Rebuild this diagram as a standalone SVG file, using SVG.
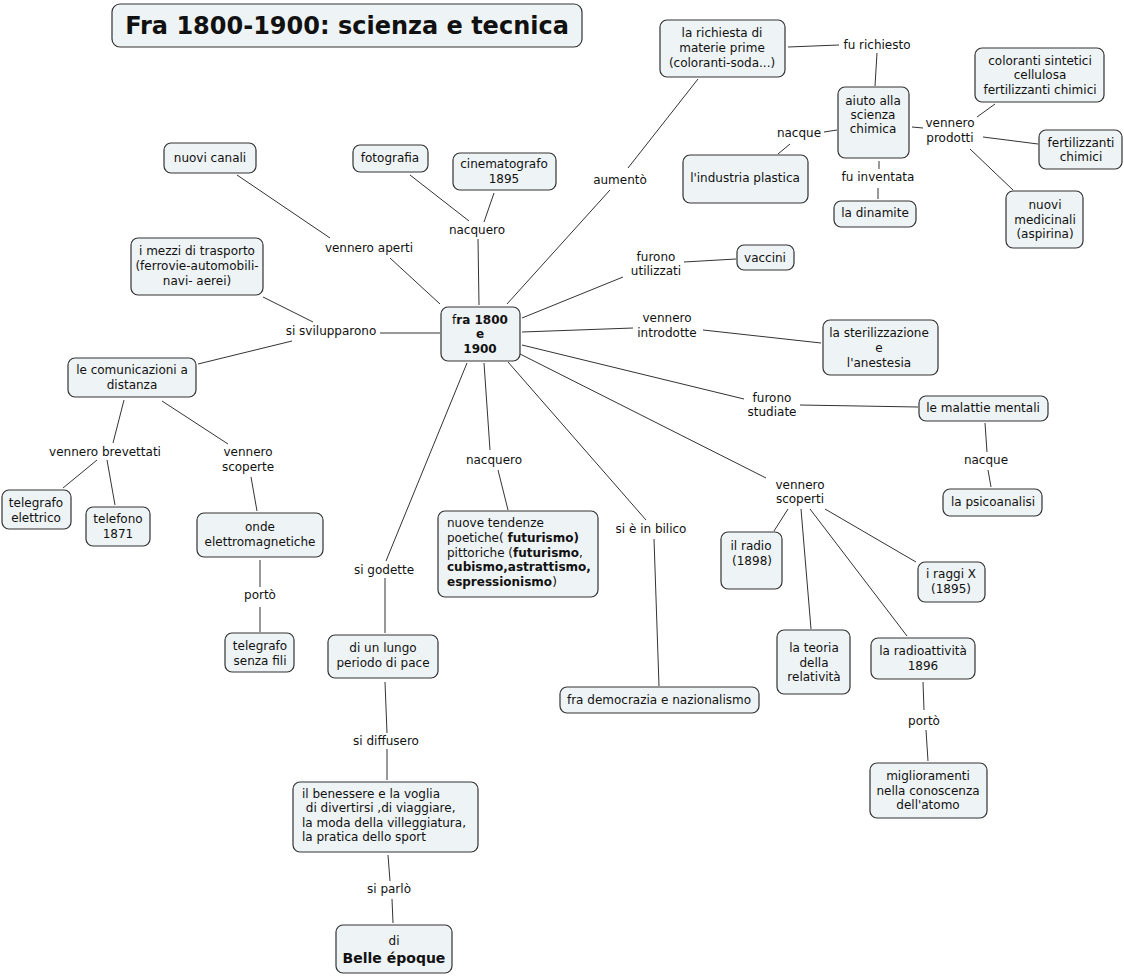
<svg xmlns="http://www.w3.org/2000/svg" width="1124" height="976" viewBox="0 0 1124 976">
<style>
.n rect{fill:#EEF3F5;stroke:#333;stroke-width:1.2}
text{font-family:"DejaVu Sans",Verdana,sans-serif;font-size:12px;fill:#111}
.c{text-anchor:middle}
.b{font-weight:bold}
#links line{stroke:#333;stroke-width:1}
</style>
<rect width="1124" height="976" fill="#fff"/>
<g id="links">
<line x1="237" y1="175" x2="330" y2="238"/>
<line x1="390" y1="258" x2="440" y2="304"/>
<line x1="410" y1="175" x2="469" y2="221"/>
<line x1="494" y1="193" x2="484" y2="222"/>
<line x1="478" y1="239" x2="479" y2="305"/>
<line x1="507" y1="304" x2="610" y2="190"/>
<line x1="628" y1="168" x2="698" y2="79"/>
<line x1="788" y1="47" x2="839" y2="45"/>
<line x1="877" y1="53" x2="875" y2="86"/>
<line x1="837" y1="130" x2="824" y2="132"/>
<line x1="790" y1="144" x2="778" y2="154"/>
<line x1="879" y1="161" x2="879" y2="169"/>
<line x1="878" y1="188" x2="878" y2="199"/>
<line x1="912" y1="127" x2="923" y2="128"/>
<line x1="977" y1="117" x2="995" y2="104"/>
<line x1="983" y1="137" x2="1038" y2="144"/>
<line x1="970" y1="149" x2="1013" y2="190"/>
<line x1="522" y1="318" x2="623" y2="277"/>
<line x1="684" y1="262" x2="736" y2="259"/>
<line x1="522" y1="332" x2="633" y2="328"/>
<line x1="703" y1="330" x2="821" y2="343"/>
<line x1="522" y1="345" x2="744" y2="399"/>
<line x1="800" y1="405" x2="918" y2="407"/>
<line x1="985" y1="423" x2="987" y2="452"/>
<line x1="988" y1="470" x2="991" y2="487"/>
<line x1="520" y1="354" x2="766" y2="478"/>
<line x1="788" y1="509" x2="774" y2="531"/>
<line x1="801" y1="509" x2="811" y2="629"/>
<line x1="810" y1="509" x2="907" y2="636"/>
<line x1="825" y1="509" x2="916" y2="562"/>
<line x1="508" y1="362" x2="646" y2="520"/>
<line x1="654" y1="539" x2="659" y2="686"/>
<line x1="484" y1="363" x2="490" y2="450"/>
<line x1="498" y1="470" x2="508" y2="510"/>
<line x1="467" y1="363" x2="386" y2="561"/>
<line x1="385" y1="578" x2="385" y2="633"/>
<line x1="385" y1="682" x2="387" y2="733"/>
<line x1="387" y1="749" x2="387" y2="780"/>
<line x1="388" y1="855" x2="390" y2="881"/>
<line x1="392" y1="899" x2="393" y2="923"/>
<line x1="380" y1="333" x2="440" y2="333"/>
<line x1="263" y1="297" x2="313" y2="322"/>
<line x1="292" y1="341" x2="198" y2="364"/>
<line x1="124" y1="400" x2="113" y2="443"/>
<line x1="97" y1="460" x2="63" y2="488"/>
<line x1="107" y1="460" x2="115" y2="505"/>
<line x1="162" y1="401" x2="228" y2="444"/>
<line x1="251" y1="477" x2="257" y2="511"/>
<line x1="260" y1="560" x2="260" y2="587"/>
<line x1="260" y1="607" x2="260" y2="632"/>
<line x1="923" y1="682" x2="924" y2="710"/>
<line x1="926" y1="730" x2="928" y2="761"/>
</g>
<g id="labels" class="c">
<text class="c" x="369" y="252">vennero aperti</text>
<text class="c" x="477" y="234">nacquero</text>
<text class="c" x="620" y="184">aumentò</text>
<text class="c" x="877" y="49">fu richiesto</text>
<text class="c" x="799" y="137">nacque</text>
<text class="c" x="950" y="127">vennero</text>
<text class="c" x="950" y="142">prodotti</text>
<text class="c" x="878" y="181">fu inventata</text>
<text class="c" x="656" y="261">furono</text>
<text class="c" x="656" y="275">utilizzati</text>
<text class="c" x="667" y="322">vennero</text>
<text class="c" x="667" y="337">introdotte</text>
<text class="c" x="772" y="402">furono</text>
<text class="c" x="772" y="416">studiate</text>
<text class="c" x="986" y="464">nacque</text>
<text class="c" x="800" y="489">vennero</text>
<text class="c" x="800" y="503">scoperti</text>
<text class="c" x="651" y="533">si è in bilico</text>
<text class="c" x="494" y="464">nacquero</text>
<text class="c" x="384" y="574">si godette</text>
<text class="c" x="386" y="745">si diffusero</text>
<text class="c" x="389" y="893">si parlò</text>
<text class="c" x="331" y="335">si svilupparono</text>
<text class="c" x="105" y="456">vennero brevettati</text>
<text class="c" x="248" y="456">vennero</text>
<text class="c" x="248" y="471">scoperte</text>
<text class="c" x="260" y="599">portò</text>
<text class="c" x="924" y="725">portò</text>
</g>
<g id="title" class="n"><rect x="112" y="4" width="470" height="43" rx="8"/><text class="c b" x="347" y="34" style="font-size:24px">Fra 1800-1900: scienza e tecnica</text></g>
<g id="center" class="n"><rect x="441" y="307" width="79" height="54" rx="7"/><text class="c" x="480" y="324"><tspan>f</tspan><tspan class="b">ra 1800</tspan></text><text class="c b" x="480" y="338">e</text><text class="c b" x="480" y="353">1900</text></g>
<g id="n-canali" class="n"><rect x="164" y="143" width="92" height="30" rx="7"/><text class="c" x="210" y="162">nuovi canali</text></g>
<g id="n-foto" class="n"><rect x="353" y="145" width="75" height="27" rx="7"/><text class="c" x="390" y="162">fotografia</text></g>
<g id="n-cinema" class="n"><rect x="453" y="153" width="103" height="37" rx="7"/><text class="c" x="504" y="168">cinematografo</text><text class="c" x="504" y="183">1895</text></g>
<g id="n-richiesta" class="n"><rect x="660" y="20" width="125" height="57" rx="7"/><text class="c" x="722" y="37">la richiesta di</text><text class="c" x="722" y="52">materie prime</text><text class="c" x="722" y="67">(coloranti-soda...)</text></g>
<g id="n-aiuto" class="n"><rect x="838" y="87" width="71" height="71" rx="7"/><text class="c" x="873" y="105">aiuto alla</text><text class="c" x="873" y="119">scienza</text><text class="c" x="873" y="133">chimica</text></g>
<g id="n-plastica" class="n"><rect x="683" y="155" width="125" height="48" rx="7"/><text class="c" x="745" y="182">l'industria plastica</text></g>
<g id="n-dinamite" class="n"><rect x="834" y="201" width="82" height="26" rx="7"/><text class="c" x="875" y="217">la dinamite</text></g>
<g id="n-coloranti" class="n"><rect x="975" y="48" width="129" height="54" rx="7"/><text class="c" x="1040" y="65">coloranti sintetici</text><text class="c" x="1040" y="79">cellulosa</text><text class="c" x="1040" y="94">fertilizzanti chimici</text></g>
<g id="n-fertilizzanti" class="n"><rect x="1039" y="130" width="83" height="39" rx="7"/><text class="c" x="1081" y="147">fertilizzanti</text><text class="c" x="1081" y="161">chimici</text></g>
<g id="n-medicinali" class="n"><rect x="1006" y="191" width="77" height="57" rx="7"/><text class="c" x="1045" y="209">nuovi</text><text class="c" x="1045" y="224">medicinali</text><text class="c" x="1045" y="238">(aspirina)</text></g>
<g id="n-vaccini" class="n"><rect x="737" y="245" width="57" height="25" rx="7"/><text class="c" x="765" y="262">vaccini</text></g>
<g id="n-steril" class="n"><rect x="823" y="320" width="115" height="55" rx="7"/><text class="c" x="879" y="337">la sterilizzazione</text><text class="c" x="879" y="352">e</text><text class="c" x="879" y="367">l'anestesia</text></g>
<g id="n-malattie" class="n"><rect x="919" y="396" width="129" height="25" rx="7"/><text class="c" x="983" y="412">le malattie mentali</text></g>
<g id="n-psico" class="n"><rect x="943" y="489" width="99" height="27" rx="7"/><text class="c" x="993" y="506">la psicoanalisi</text></g>
<g id="n-mezzi" class="n"><rect x="131" y="238" width="132" height="57" rx="7"/><text class="c" x="197" y="255">i mezzi di trasporto</text><text class="c" x="197" y="270">(ferrovie-automobili-</text><text class="c" x="197" y="285">navi- aerei)</text></g>
<g id="n-comunicazioni" class="n"><rect x="68" y="358" width="128" height="39" rx="7"/><text class="c" x="132" y="374">le comunicazioni a</text><text class="c" x="132" y="389">distanza</text></g>
<g id="n-telegrafo-el" class="n"><rect x="2" y="490" width="69" height="39" rx="7"/><text class="c" x="36" y="507">telegrafo</text><text class="c" x="36" y="522">elettrico</text></g>
<g id="n-telefono" class="n"><rect x="86" y="507" width="64" height="39" rx="7"/><text class="c" x="118" y="523">telefono</text><text class="c" x="118" y="538">1871</text></g>
<g id="n-onde" class="n"><rect x="197" y="513" width="126" height="44" rx="7"/><text class="c" x="260" y="531">onde</text><text class="c" x="260" y="546">elettromagnetiche</text></g>
<g id="n-senzafili" class="n"><rect x="225" y="633" width="69" height="39" rx="7"/><text class="c" x="260" y="650">telegrafo</text><text class="c" x="260" y="665">senza fili</text></g>
<g id="n-pace" class="n"><rect x="328" y="635" width="110" height="43" rx="7"/><text class="c" x="383" y="652">di un lungo</text><text class="c" x="383" y="667">periodo di pace</text></g>
<g id="n-benessere" class="n"><rect x="293" y="782" width="185" height="70" rx="7"/><text x="302" y="798">il benessere e la voglia</text><text x="302" y="812" xml:space="preserve"> di divertirsi ,di viaggiare,</text><text x="302" y="827">la moda della villeggiatura,</text><text x="302" y="841">la pratica dello sport</text></g>
<g id="n-belle" class="n"><rect x="336" y="925" width="116" height="48" rx="7"/><text class="c" x="394" y="945">di</text><text class="c b" x="394" y="963" style="font-size:14px">Belle époque</text></g>
<g id="n-tendenze" class="n"><rect x="438" y="511" width="160" height="86" rx="7"/><text x="447" y="527">nuove tendenze</text><text x="447" y="542">poetiche( <tspan class="b">futurismo)</tspan></text><text x="447" y="557">pittoriche (<tspan class="b">futurismo</tspan>,</text><text class="b" x="447" y="571">cubismo,astrattismo,</text><text x="447" y="586"><tspan class="b">espressionismo</tspan>)</text></g>
<g id="n-democrazia" class="n"><rect x="560" y="687" width="199" height="26" rx="7"/><text class="c" x="659" y="704">fra democrazia e nazionalismo</text></g>
<g id="n-radio" class="n"><rect x="721" y="532" width="61" height="57" rx="7"/><text class="c" x="751" y="550">il radio</text><text class="c" x="752" y="565">(1898)</text></g>
<g id="n-raggix" class="n"><rect x="918" y="562" width="67" height="40" rx="7"/><text class="c" x="951" y="578">i raggi X</text><text class="c" x="951" y="593">(1895)</text></g>
<g id="n-relativita" class="n"><rect x="777" y="630" width="73" height="64" rx="7"/><text class="c" x="814" y="652">la teoria</text><text class="c" x="814" y="667">della</text><text class="c" x="814" y="681">relatività</text></g>
<g id="n-radioattivita" class="n"><rect x="871" y="638" width="104" height="41" rx="7"/><text class="c" x="923" y="655">la radioattività</text><text class="c" x="923" y="670">1896</text></g>
<g id="n-atomo" class="n"><rect x="870" y="763" width="117" height="55" rx="7"/><text class="c" x="928" y="780">miglioramenti</text><text class="c" x="928" y="795">nella conoscenza</text><text class="c" x="928" y="809">dell'atomo</text></g>
</svg>
